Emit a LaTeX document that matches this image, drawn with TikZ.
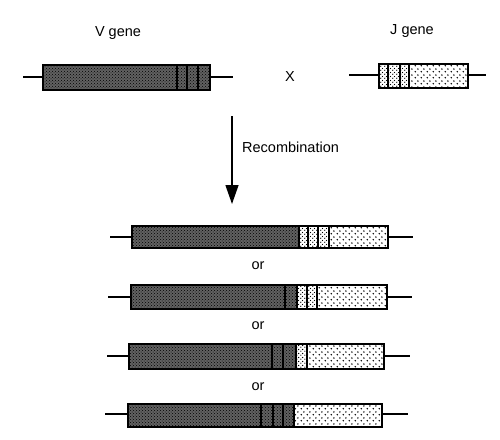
\documentclass[tikz,border=0pt]{standalone}
\usepackage{fontspec}
\setmainfont{Liberation Sans}
\usetikzlibrary{patterns,patterns.meta,arrows.meta}
\pgfdeclarepattern{name=sparsedots, type=uncolored,
  bottom left={\pgfpoint{0pt}{0pt}}, top right={\pgfpoint{6pt}{6pt}},
  tile size={\pgfpoint{6pt}{6pt}},
  code={\pgfpathcircle{\pgfpoint{1.5pt}{1.5pt}}{0.95pt}
        \pgfpathcircle{\pgfpoint{4.5pt}{4.5pt}}{0.95pt}\pgfusepath{fill}}}
\pgfdeclarepattern{name=densedots, type=uncolored,
  bottom left={\pgfpoint{0pt}{0pt}}, top right={\pgfpoint{4pt}{4pt}},
  tile size={\pgfpoint{4pt}{4pt}},
  code={\pgfpathcircle{\pgfpoint{1pt}{1pt}}{0.8pt}
        \pgfpathcircle{\pgfpoint{3pt}{3pt}}{0.8pt}\pgfusepath{fill}}}
\tikzset{
  x=1pt, y=-1pt,
  darkseg/.style={preaction={fill=black!62}, pattern=crosshatch dots, pattern color=black},
  lightseg/.style={fill=white, postaction={pattern=sparsedots, pattern color=black}},
  jseg/.style={fill=white, postaction={pattern=densedots, pattern color=black}},
  genebox/.style={draw=black, line width=1.5pt},
  divider/.style={draw=black, line width=1.1pt},
  strand/.style={draw=black, line width=1.5pt},
  lbl/.style={font=\fontsize{14.5}{16}\selectfont, inner sep=0pt}
}
% #1 name, #2 x1, #3 x2, #4 ytop, #5 ybot, #6 yline, #7 lineL, #8 lineR
\newcommand{\geneframe}[8]{%
  \coordinate (#1L) at (#7,#6);
  \coordinate (#1R) at (#8,#6);
  \node[genebox, minimum width=#3pt-#2pt, minimum height=#5pt-#4pt, inner sep=0pt, anchor=north west] (#1) at (#2,#4) {};
  \draw[strand] (#1L) -- (#1.west |- #1L);
  \draw[strand] (#1.east |- #1R) -- (#1R);
}
% #1 style, #2 x1, #3 x2, #4 ytop, #5 ybot
\newcommand{\seg}[5]{\path[#1] (#2,#4) rectangle (#3,#5);}
\newcommand{\dv}[3]{\draw[divider] (#1,#2) -- (#1,#3);}
\begin{document}
\begin{tikzpicture}
\useasboundingbox (0,0) rectangle (500,439);
\fill[white] (0,0) rectangle (500,439);

% V gene
\seg{darkseg}{42}{177}{64}{89}
\seg{darkseg}{177}{209}{64}{89}
\dv{177}{64}{89}\dv{187}{64}{89}\dv{198}{64}{89}
\geneframe{V}{42}{209}{64}{89}{77}{23}{233}

% J gene
\seg{jseg}{378}{409}{63}{87}
\seg{lightseg}{409}{467}{63}{87}
\dv{388}{63}{87}\dv{400}{63}{87}\dv{409}{63}{87}
\geneframe{J}{378}{467}{63}{87}{75}{349}{486}

\node[lbl] (vlabel) at (118,33) {V gene};
\node[lbl] (jlabel) at (412,31) {J gene};
\node[lbl] (cross) at (290,77) {X};

% arrow
\coordinate (arrS) at (232,116);
\coordinate (arrE) at (232,204);
\draw[line width=1.3pt, -{Triangle[length=19pt,width=13pt]}] (arrS) -- (arrE);
\node[lbl, anchor=west] (recomb) at (242,147) {Recombination};

% Row 1
\seg{darkseg}{131}{299}{225}{247}
\seg{jseg}{299}{329}{225}{247}
\seg{lightseg}{329}{387}{225}{247}
\dv{299}{225}{247}\dv{308}{225}{247}\dv{318}{225}{247}\dv{329}{225}{247}
\geneframe{R1}{131}{387}{225}{247}{237}{110}{413}
\node[lbl] (or1) at (258,266) {or};

% Row 2
\seg{darkseg}{130}{297}{284}{308}
\seg{jseg}{297}{317}{284}{308}
\seg{lightseg}{317}{386}{284}{308}
\dv{285}{284}{308}\dv{297}{284}{308}\dv{307}{284}{308}\dv{317}{284}{308}
\geneframe{R2}{130}{386}{284}{308}{297}{108}{412}
\node[lbl] (or2) at (258,326) {or};

% Row 3
\seg{darkseg}{128}{296}{343}{368}
\seg{jseg}{296}{307}{343}{368}
\seg{lightseg}{307}{383}{343}{368}
\dv{272}{343}{368}\dv{283}{343}{368}\dv{296}{343}{368}\dv{307}{343}{368}
\geneframe{R3}{128}{383}{343}{368}{356}{107}{410}
\node[lbl] (or3) at (258,387) {or};

% Row 4
\seg{darkseg}{127}{294}{403}{426}
\seg{lightseg}{294}{381}{403}{426}
\dv{261}{403}{426}\dv{273}{403}{426}\dv{283}{403}{426}\dv{294}{403}{426}
\geneframe{R4}{127}{381}{403}{426}{414}{105}{408}
\end{tikzpicture}
\end{document}
